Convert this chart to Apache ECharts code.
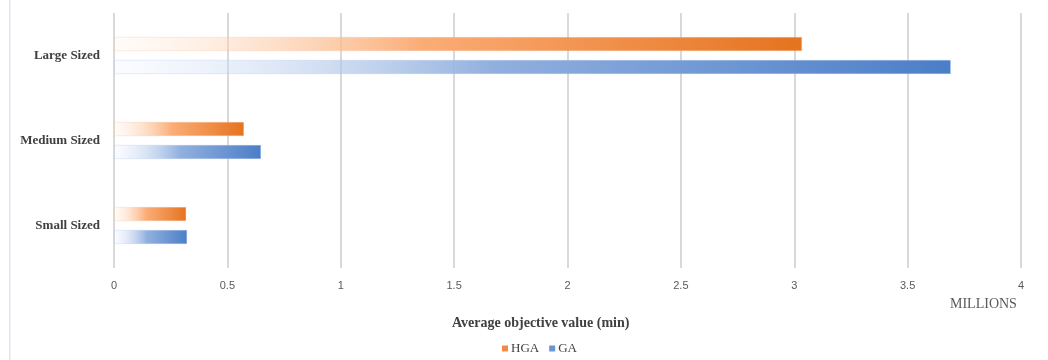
<!DOCTYPE html>
<html>
<head>
<meta charset="utf-8">
<script src="https://cdn.jsdelivr.net/npm/echarts@6/dist/echarts.min.js"></script>
<style>
html,body{margin:0;padding:0;background:#fff;}
#chart{width:1048px;height:360px;}
</style>
</head>
<body>
<div id="chart"></div>
<script>
const categories = ['Large Sized', 'Medium Sized', 'Small Sized'];
const hgaValues = [3.034, 0.573, 0.318];
const gaValues = [3.69, 0.648, 0.322];
const xTicks = [0, 0.5, 1, 1.5, 2, 2.5, 3, 3.5, 4];
const seriesNames = ['HGA', 'GA'];
const xUnit = 'MILLIONS';
const xTitle = 'Average objective value (min)';

const chart = echarts.init(document.getElementById('chart'));
const serif = 'Liberation Serif';

function grad(c0, c1, c2) {
  return new echarts.graphic.LinearGradient(0, 0, 1, 0, [
    {offset: 0, color: c0},
    {offset: 0.45, color: c1},
    {offset: 1, color: c2}
  ]);
}

chart.setOption({
  animation: false,
  grid: {left: 114, right: 27, top: 13, bottom: 92, containLabel: false},
  legend: {
    data: [
      {name: seriesNames[0], itemStyle: {color: '#f28a45', borderWidth: 0}},
      {name: seriesNames[1], itemStyle: {color: '#6d95d2', borderWidth: 0}}
    ],
    left: 497, top: 337,
    itemWidth: 6, itemHeight: 6, itemGap: 10,
    icon: 'rect',
    textStyle: {fontFamily: serif, fontSize: 13, color: '#404040', padding: [0, 0, 0, -2]}
  },
  xAxis: {
    type: 'value', min: 0, max: 4, interval: 0.5,
    axisLine: {show: false},
    axisTick: {show: false},
    splitLine: {show: true, lineStyle: {color: '#d9d9d9', width: 2}},
    axisLabel: {
      margin: 12, color: '#595959', fontFamily: 'Liberation Sans', fontSize: 11,
      formatter: v => xTicks.includes(v) ? String(v) : ''
    }
  },
  yAxis: {
    type: 'category', data: categories, inverse: true,
    axisLine: {show: false}, axisTick: {show: false},
    axisLabel: {margin: 14, color: '#404040', fontFamily: serif, fontWeight: 'bold', fontSize: 13}
  },
  series: [
    {
      name: seriesNames[0], type: 'bar', data: hgaValues,
      barWidth: 14, barGap: '64%',
      itemStyle: {
        color: grad('rgba(255,236,222,0.2)', '#fbac76', '#e5731f'),
        borderColor: 'rgba(248,190,150,0.6)', borderWidth: 0.5
      }
    },
    {
      name: seriesNames[1], type: 'bar', data: gaValues,
      barWidth: 14,
      itemStyle: {
        color: grad('rgba(230,238,252,0.2)', '#92b0de', '#4b7ec8'),
        borderColor: 'rgba(170,195,235,0.6)', borderWidth: 0.5
      }
    }
  ],
  graphic: [
    {type: 'rect', shape: {x: 9, y: 0, width: 1.5, height: 360}, style: {fill: '#dfe6f2'}},
    {type: 'text', left: 950, top: 297, style: {text: xUnit, fontFamily: serif, fontSize: 14, fill: '#595959'}},
    {type: 'text', left: 452, top: 316, style: {text: xTitle, fontFamily: serif, fontSize: 14, fontWeight: 'bold', fill: '#404040'}}
  ]
});
</script>
</body>
</html>
